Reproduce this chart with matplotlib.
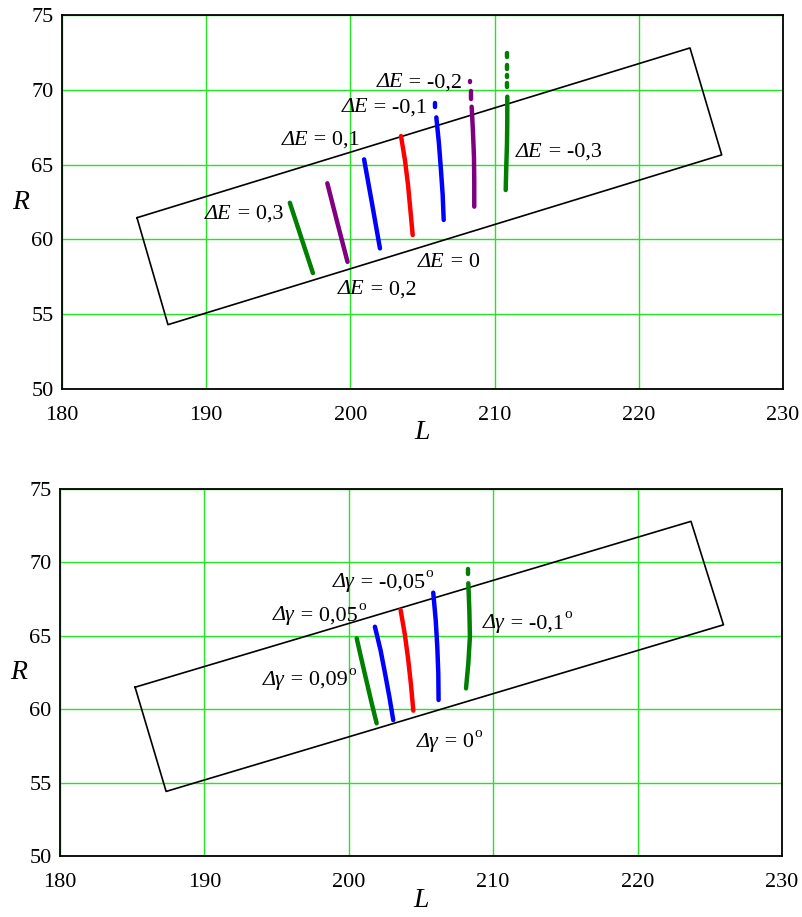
import matplotlib
import matplotlib.pyplot as plt

matplotlib.use('Agg')

plt.rcParams['font.family'] = ['Liberation Serif', 'DejaVu Serif']

GREEN = '#007f00'
PURPLE = '#800080'
BLUE = '#0000ff'
RED = '#ff0000'

# parallelogram (region boundary) in (L, R)
box_top_L = [185.2, 187.35, 225.75, 223.55, 185.2]
box_top_R = [61.45, 54.3, 65.65, 72.8, 61.45]
box_bot_L = [185.2, 187.35, 225.95, 223.7, 185.2]
box_bot_R = [61.5, 54.4, 65.75, 72.8, 61.5]

# top panel: dE curves, solid part
dE_labels = ['0,3', '0,2', '0,1', '0', '-0,1', '-0,2', '-0,3']
dE_colors = [GREEN, PURPLE, BLUE, RED, BLUE, PURPLE, GREEN]
dE_L = [[195.8, 196.6, 197.4],
        [198.4, 199.1, 199.8],
        [200.95, 201.5, 202.05],
        [203.51, 203.79, 204.0, 204.16, 204.32],
        [205.96, 206.14, 206.28, 206.4, 206.47],
        [208.41, 208.5, 208.57, 208.59, 208.59],
        [210.88, 210.88, 210.86, 210.81, 210.77]]
dE_R = [[62.45, 60.1, 57.75],
        [63.75, 61.1, 58.5],
        [65.35, 62.4, 59.4],
        [66.91, 65.26, 63.62, 61.97, 60.29],
        [68.16, 66.42, 64.64, 62.97, 61.3],
        [68.87, 67.2, 65.53, 63.86, 62.19],
        [69.54, 67.98, 66.42, 64.86, 63.3]]
# dotted pieces above the solid part: (L, R_from, R_to)
dE_dots = [[], [], [], [],
           [(205.85, 69.1, 68.86)],
           [(208.29, 70.62, 70.52), (208.35, 69.89, 69.42)],
           [(210.85, 72.45, 72.2), (210.86, 71.67, 71.42),
            (210.87, 71.0, 70.86), (210.88, 70.44, 70.19)]]
# label left edge and baseline
dE_text_L = [189.92, 199.14, 195.24, 204.69, 199.4, 201.82, 211.48]
dE_text_R = [61.38, 56.33, 66.33, 58.13, 68.51, 70.18, 65.51]

# bottom panel: dgamma curves
dg_labels = ['0,09', '0,05', '0', '-0,05', '-0,1']
dg_colors = [GREEN, BLUE, RED, BLUE, GREEN]
dg_L = [[200.55, 200.89, 201.24, 201.59, 201.93],
        [201.81, 202.2, 202.51, 202.81, 203.08],
        [203.59, 203.89, 204.12, 204.31, 204.47],
        [205.85, 206.02, 206.13, 206.2, 206.22],
        [208.28, 208.35, 208.39, 208.28, 208.12]]
dg_R = [[64.83, 63.35, 61.87, 60.4, 59.04],
        [65.62, 64.03, 62.45, 60.85, 59.26],
        [66.76, 65.05, 63.35, 61.65, 59.9],
        [67.94, 66.08, 64.26, 62.44, 60.63],
        [68.58, 66.76, 64.94, 63.13, 61.42]]
dg_dots = [[], [], [], [], [(208.28, 69.54, 69.24)]]
dg_text_L = [194.06, 194.75, 204.72, 198.9, 209.29]
dg_text_R = [61.65, 66.07, 57.42, 68.32, 65.52]


def setup(ax):
    ax.set_xlim(180, 230)
    ax.set_ylim(50, 75)
    ax.set_xticks([180, 190, 200, 210, 220, 230])
    ax.set_yticks([50, 55, 60, 65, 70, 75])
    ax.grid(True, color='#22e622', linewidth=1.0)
    ax.set_axisbelow(True)
    ax.tick_params(length=0, labelsize=16)
    ax.tick_params(axis='x', pad=12)
    ax.tick_params(axis='y', pad=6)
    for sp in ax.spines.values():
        sp.set_linewidth(1.3)
    ax.set_xlabel('L', fontsize=20, fontstyle='italic', labelpad=-3)
    ax.set_ylabel('R', fontsize=20, fontstyle='italic', rotation=0,
                  labelpad=8, va='center')


def draw(ax, Ls, Rs, dots, colors):
    for L, R, d, c in zip(Ls, Rs, dots, colors):
        ax.plot(L, R, color=c, lw=3.2, solid_capstyle='round',
                solid_joinstyle='round')
        for dl, r0, r1 in d:
            ax.plot([dl, dl], [r0, r1], color=c, lw=3.2, solid_capstyle='round')


def label(ax, x, y, head, tail, sup=False):
    t1 = ax.text(x, y, head, fontsize=16, fontstyle='italic',
                 ha='left', va='baseline')
    t2 = ax.annotate(tail, xy=(1, 0), xycoords=t1, fontsize=16,
                     ha='left', va='bottom')
    if sup:
        ax.annotate('o', xy=(1, 1), xycoords=t2, xytext=(0.5, 4.5),
                    textcoords='offset points', fontsize=11,
                    ha='left', va='top')


fig = plt.figure(figsize=(8.02, 9.17), dpi=100)
ax1 = fig.add_axes([0.0773, 0.5758, 0.899, 0.4078])
ax2 = fig.add_axes([0.0748, 0.0665, 0.9002, 0.4002])

for ax in (ax1, ax2):
    setup(ax)

ax1.plot(box_top_L, box_top_R, color='black', lw=1.2)
draw(ax1, dE_L, dE_R, dE_dots, dE_colors)
for t, x, y in zip(dE_labels, dE_text_L, dE_text_R):
    label(ax1, x, y, 'ΔE', ' = ' + t)

ax2.plot(box_bot_L, box_bot_R, color='black', lw=1.2)
draw(ax2, dg_L, dg_R, dg_dots, dg_colors)
for t, x, y in zip(dg_labels, dg_text_L, dg_text_R):
    label(ax2, x, y, 'Δγ', ' = ' + t, sup=True)

fig.savefig('out.png', dpi=100)
